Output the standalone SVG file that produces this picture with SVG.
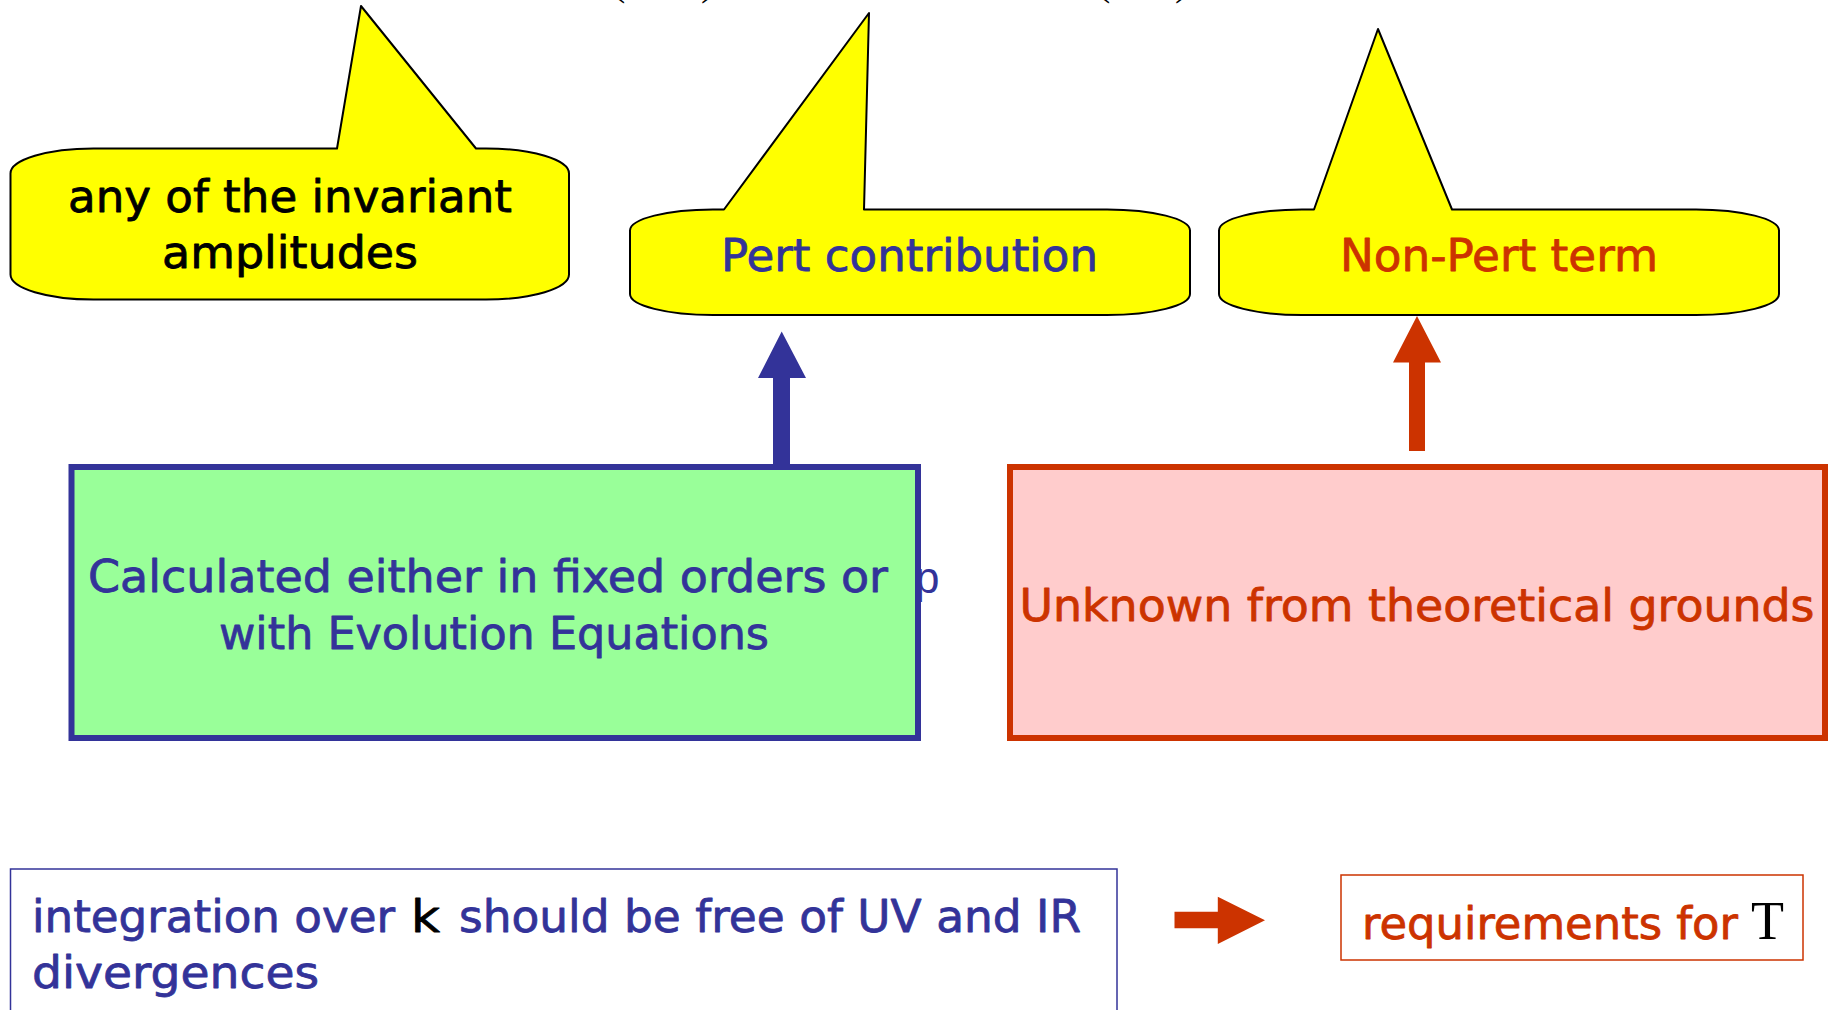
<svg xmlns="http://www.w3.org/2000/svg" width="1833" height="1010" viewBox="0 0 1833 1010">
<style>
.callout{fill:#FFFF00;stroke:#000;stroke-width:2;stroke-linejoin:round}
.t{font-family:"DejaVu Sans","Liberation Sans",sans-serif;font-size:45px;stroke-width:0.8;stroke-linejoin:round}
.blue{fill:#333399}
.red{fill:#CC3300}
.blk{fill:#000}
.t.blue{stroke:#333399}
.t.red{stroke:#CC3300}
.t.blk{stroke:#000}
.paren{font-family:"Liberation Serif",serif;font-size:40px;fill:#000}
</style>
<rect width="1833" height="1010" fill="#fff"/>

<g id="formula-fragments">
<text class="paren" x="612" y="-5">(</text>
<text class="paren" x="701" y="-5">)</text>
<text class="paren" x="1097" y="-5">(</text>
<text class="paren" x="1175" y="-5">)</text>
</g>

<g id="callout-amplitudes">
<path class="callout" d="M93.5,148.5 L337,148.5 L361,6 L476,148.5 L486,148.5 A83,25 0 0 1 569,173.5 L569,274.5 A83,25 0 0 1 486,299.5 L93.5,299.5 A83,25 0 0 1 10.5,274.5 L10.5,173.5 A83,25 0 0 1 93.5,148.5 Z"/>
<text class="t blk" x="290" y="212" text-anchor="middle" textLength="444" lengthAdjust="spacingAndGlyphs">any of the invariant</text>
<text class="t blk" x="290" y="268" text-anchor="middle" textLength="256" lengthAdjust="spacingAndGlyphs">amplitudes</text>
</g>

<g id="callout-pert">
<path class="callout" d="M713,209.5 L724,209.5 L869,13 L864,209.5 L1107,209.5 A83,21 0 0 1 1190,230.5 L1190,294 A83,21 0 0 1 1107,315 L713,315 A83,21 0 0 1 630,294 L630,230.5 A83,21 0 0 1 713,209.5 Z"/>
<text class="t blue" x="721" y="270.5" textLength="377" lengthAdjust="spacingAndGlyphs">Pert contribution</text>
</g>

<g id="callout-nonpert">
<path class="callout" d="M1302,209.5 L1314,209.5 L1378,29 L1452,209.5 L1696,209.5 A83,21 0 0 1 1779,230.5 L1779,294 A83,21 0 0 1 1696,315 L1302,315 A83,21 0 0 1 1219,294 L1219,230.5 A83,21 0 0 1 1302,209.5 Z"/>
<text class="t red" x="1340" y="270.5" textLength="318" lengthAdjust="spacingAndGlyphs">Non-Pert term</text>
</g>

<g id="stray-p">
<text x="915" y="593" style="font-family:'Liberation Sans',sans-serif;font-size:44px" class="blue">p</text>
</g>

<g id="box-calculated">
<rect x="71.5" y="467" width="846.5" height="271" fill="#99FF99" stroke="#333399" stroke-width="6"/>
<text class="t blue" x="88" y="592" textLength="800" lengthAdjust="spacingAndGlyphs">Calculated either in fixed orders or</text>
<text class="t blue" x="219" y="649" textLength="550" lengthAdjust="spacingAndGlyphs">with Evolution Equations</text>
</g>

<g id="box-unknown">
<rect x="1010" y="467" width="815" height="271" fill="#FFCCCC" stroke="#CC3300" stroke-width="6"/>
<text class="t red" x="1019.5" y="621" textLength="795" lengthAdjust="spacingAndGlyphs">Unknown from theoretical grounds</text>
</g>

<g id="box-integration">
<rect x="10.5" y="869" width="1106.5" height="160" fill="#fff" stroke="#333399" stroke-width="1.5"/>
<text class="t blue" x="32" y="932" textLength="363" lengthAdjust="spacingAndGlyphs">integration over</text>
<text class="t blk" x="411" y="932" textLength="29" lengthAdjust="spacingAndGlyphs">k</text>
<text class="t blue" x="459" y="932" textLength="622" lengthAdjust="spacingAndGlyphs">should be free of UV and IR</text>
<text class="t blue" x="32" y="988" textLength="287" lengthAdjust="spacingAndGlyphs">divergences</text>
</g>

<g id="box-requirements">
<rect x="1341" y="875" width="462" height="85" fill="#fff" stroke="#CC3300" stroke-width="1.5"/>
<text class="t red" x="1362" y="939" textLength="376" lengthAdjust="spacingAndGlyphs">requirements for</text>
<text x="1751" y="939" style="font-family:'Liberation Serif',serif;font-size:54px" class="blk">T</text>
</g>

<g id="connectors">
<polygon class="blue" points="773,464 773,378 758,378 781.7,331.5 806,378 790,378 790,464"/>
<polygon class="red" points="1409,451 1409,362.5 1393,362.5 1417,316 1441,362.5 1425,362.5 1425,451"/>
<polygon class="red" points="1174.5,911.7 1217.8,911.7 1217.8,896.7 1265,920.3 1217.8,944 1217.8,928.3 1174.5,928.3"/>
</g>
</svg>
